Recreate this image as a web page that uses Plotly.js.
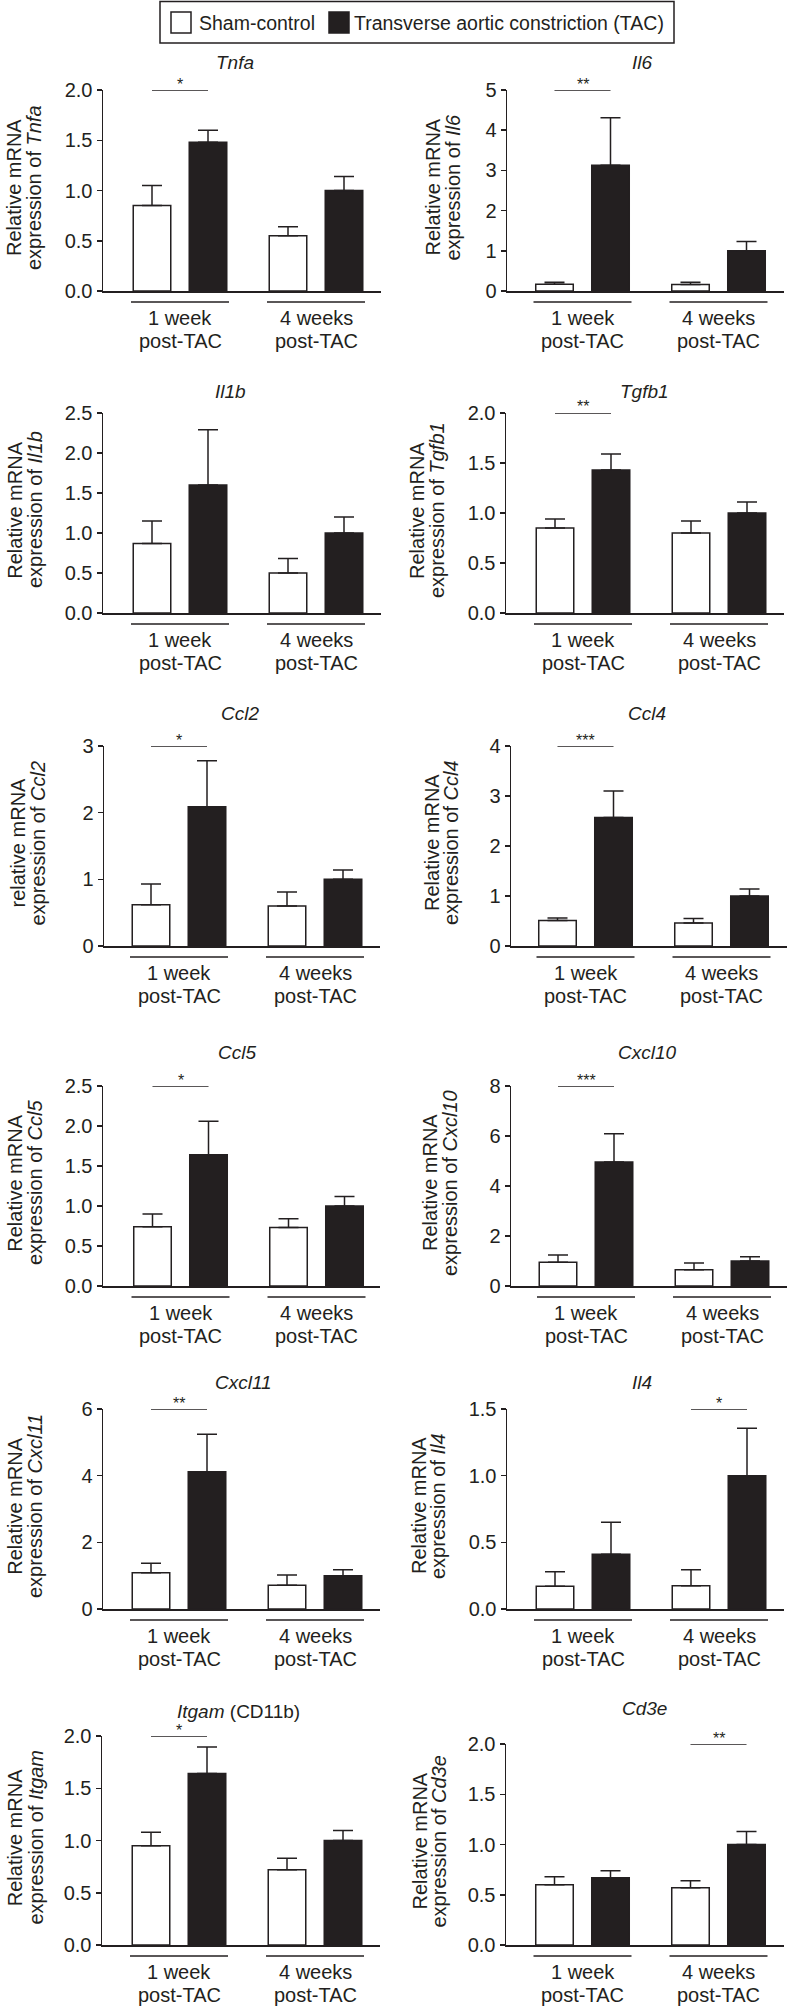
<!DOCTYPE html>
<html><head><meta charset="utf-8">
<script src="https://cdn.plot.ly/plotly-3.0.1.min.js"></script>
<style>html,body{margin:0;padding:0;background:#fff}#chart{width:788px;height:2006px}</style>
</head><body><div id="chart"></div>
<script>
// ---------------- DATA ----------------
const genes = ['Tnfa','Il6','Il1b','Tgfb1','Ccl2','Ccl4','Ccl5','Cxcl10','Cxcl11','Il4','Itgam','Cd3e'];
const panelTitles = ['<i>Tnfa</i>','<i>Il6</i>','<i>Il1b</i>','<i>Tgfb1</i>','<i>Ccl2</i>','<i>Ccl4</i>',
  '<i>Ccl5</i>','<i>Cxcl10</i>','<i>Cxcl11</i>','<i>Il4</i>','<i>Itgam</i> (CD11b)','<i>Cd3e</i>'];
const yTitleLine1 = ['Relative mRNA','Relative mRNA','Relative mRNA','Relative mRNA','relative mRNA','Relative mRNA',
  'Relative mRNA','Relative mRNA','Relative mRNA','Relative mRNA','Relative mRNA','Relative mRNA'];
const yTitleLine2 = ['expression of <i>Tnfa</i>','expression of <i>Il6</i>','expression of <i>Il1b</i>','expression of <i>Tgfb1</i>',
  'expression of <i>Ccl2</i>','expression of <i>Ccl4</i>','expression of <i>Ccl5</i>','expression of <i>Cxcl10</i>',
  'expression of <i>Cxcl11</i>','expression of <i>Il4</i>','expression of <i>Itgam</i>','expression of <i>Cd3e</i>'];
const groupLine1 = ['1 week','4 weeks'];
const groupLine2 = ['post-TAC','post-TAC'];
const seriesNames = ['Sham-control','Transverse aortic constriction (TAC)'];

// [1 week, 4 weeks] per gene
const shamMean = [[0.85,0.55],[0.17,0.16],[0.87,0.50],[0.85,0.80],[0.62,0.60],[0.51,0.46],
                  [0.74,0.73],[0.95,0.65],[1.09,0.71],[0.17,0.175],[0.95,0.72],[0.60,0.57]];
const shamSEM  = [[0.20,0.09],[0.05,0.06],[0.28,0.18],[0.09,0.12],[0.31,0.21],[0.05,0.09],
                  [0.16,0.11],[0.29,0.27],[0.28,0.31],[0.11,0.12],[0.13,0.11],[0.08,0.07]];
const tacMean  = [[1.48,1.00],[3.13,1.00],[1.60,1.00],[1.43,1.00],[2.09,1.00],[2.57,1.00],
                  [1.64,1.00],[4.96,1.00],[4.12,1.00],[0.41,1.00],[1.64,1.00],[0.67,1.00]];
const tacSEM   = [[0.12,0.14],[1.18,0.23],[0.69,0.20],[0.16,0.11],[0.69,0.14],[0.53,0.14],
                  [0.42,0.12],[1.13,0.17],[1.12,0.18],[0.24,0.355],[0.255,0.095],[0.07,0.13]];
const yTickLabels = [
  ['0.0','0.5','1.0','1.5','2.0'], ['0','1','2','3','4','5'], ['0.0','0.5','1.0','1.5','2.0','2.5'],
  ['0.0','0.5','1.0','1.5','2.0'], ['0','1','2','3'], ['0','1','2','3','4'],
  ['0.0','0.5','1.0','1.5','2.0','2.5'], ['0','2','4','6','8'], ['0','2','4','6'],
  ['0.0','0.5','1.0','1.5'], ['0.0','0.5','1.0','1.5','2.0'], ['0.0','0.5','1.0','1.5','2.0']];
const sigGroup = [0,0,null,0,0,0,0,0,0,1,0,1];
const sigMark  = ['*','**','','**','*','***','*','***','**','*','*','**'];

// ---------------- LAYOUT (pixel positions) ----------------
const W = 788, H = 2006, PXU = 136;
const POS = [
  {ax:103,xe:381,g1:180,  top:90,  zero:291, tx:235,ty:62,  b1:20.5,b2:40.5},
  {ax:507,xe:784,g1:582.5,top:90,  zero:291, tx:642,ty:62,  b1:439, b2:459},
  {ax:103,xe:381,g1:180,  top:413, zero:613, tx:230,ty:392, b1:21.7,b2:42},
  {ax:506,xe:784,g1:583,  top:413, zero:613, tx:644,ty:392, b1:424, b2:444},
  {ax:104,xe:380,g1:179,  top:746, zero:946, tx:240,ty:713, b1:24.5,b2:44.5},
  {ax:511,xe:787,g1:585.5,top:746, zero:946, tx:647,ty:713, b1:439, b2:458},
  {ax:103,xe:380,g1:180.5,top:1086,zero:1286,tx:237,ty:1052,b1:21.7,b2:42},
  {ax:511,xe:787,g1:586,  top:1086,zero:1286,tx:647,ty:1052,b1:437, b2:457},
  {ax:103,xe:380,g1:179,  top:1409,zero:1609,tx:243,ty:1382,b1:21.7,b2:42},
  {ax:507,xe:784,g1:583,  top:1409,zero:1609,tx:642,ty:1382,b1:426, b2:445},
  {ax:102,xe:380,g1:179,  top:1736,zero:1945,tx:238,ty:1711,b1:21.7,b2:42},
  {ax:506,xe:784,g1:582.5,top:1744,zero:1945,tx:644,ty:1708,b1:426, b2:445}
];
const INK = '#231f20';
const FONT = 'Liberation Sans, Arial, Helvetica, sans-serif';

const traces = [], annotations = [], shapes = [];
const layout = {
  width: W, height: H, margin: {l:0,r:0,t:0,b:0}, showlegend: false,
  paper_bgcolor: '#fff', plot_bgcolor: 'rgba(0,0,0,0)',
  barmode: 'group', bargap: 0.1765, bargroupgap: 0.33,
  font: {family: FONT, color: INK, size: 20}
};
const px = v => v / W, py = v => 1 - v / H;

genes.forEach((g, i) => {
  const p = POS[i];
  const n = i === 0 ? '' : String(i + 1);
  const xa = 'x' + n, ya = 'y' + n;
  const ticks = yTickLabels[i].map(Number);
  const yMax = ticks[ticks.length - 1];
  const r0 = (p.ax - p.g1) / PXU, r1 = 1 + (p.xe - (p.g1 + PXU)) / PXU;
  layout['xaxis' + n] = {
    domain: [px(p.ax), px(p.xe)], range: [r0, r1], anchor: ya,
    showline: true, linewidth: 1.5, linecolor: INK, showgrid: false, zeroline: false,
    showticklabels: false, ticks: '', fixedrange: true
  };
  layout['yaxis' + n] = {
    domain: [py(p.zero), py(p.top)], range: [0, yMax], anchor: xa,
    showline: true, linewidth: 1.5, linecolor: INK, showgrid: false, zeroline: false,
    tickvals: ticks, ticktext: yTickLabels[i], ticks: 'outside', ticklen: 5, tickwidth: 1.5,
    tickcolor: INK, tickfont: {size: 20, color: INK, family: FONT}, fixedrange: true
  };
  const cats = [0, 1];
  traces.push({
    type: 'bar', name: seriesNames[0], x: cats, y: shamMean[i], xaxis: xa, yaxis: ya,
    marker: {color: '#ffffff', line: {color: INK, width: 1.5}},
    error_y: {type: 'data', symmetric: false, array: shamSEM[i], arrayminus: shamSEM[i].map(() => 0),
              color: INK, thickness: 1.5, width: 10},
    hoverinfo: 'skip'
  });
  traces.push({
    type: 'bar', name: seriesNames[1], x: cats, y: tacMean[i], xaxis: xa, yaxis: ya,
    marker: {color: INK, line: {color: INK, width: 1.5}},
    error_y: {type: 'data', symmetric: false, array: tacSEM[i], arrayminus: tacSEM[i].map(() => 0),
              color: INK, thickness: 1.5, width: 10},
    hoverinfo: 'skip'
  });
  // significance bar
  if (sigGroup[i] !== null) {
    const gc = sigGroup[i];
    traces.push({
      type: 'scatter', mode: 'lines', x: [gc - 0.206, gc + 0.206], y: [yMax, yMax],
      xaxis: xa, yaxis: ya, line: {color: INK, width: 1.5}, cliponaxis: false, hoverinfo: 'skip'
    });
    annotations.push({
      xref: xa, yref: ya, x: gc, y: yMax, text: sigMark[i], showarrow: false,
      xanchor: 'center', yanchor: 'middle', yshift: 6, font: {size: 16, color: INK}
    });
  }
  // panel title
  annotations.push({
    xref: 'paper', yref: 'paper', x: px(p.tx), y: py(p.ty), text: panelTitles[i], showarrow: false,
    xanchor: 'center', yanchor: 'middle', font: {size: 19, color: INK}
  });
  // y-axis title (two lines)
  const yc = py((p.top + p.zero) / 2 - 3);
  annotations.push({
    xref: 'paper', yref: 'paper', x: px(p.b1 - 7), y: yc, text: yTitleLine1[i], textangle: -90,
    showarrow: false, xanchor: 'center', yanchor: 'middle', font: {size: 20, color: INK}
  });
  annotations.push({
    xref: 'paper', yref: 'paper', x: px(p.b2 - 7), y: yc, text: yTitleLine2[i], textangle: -90,
    showarrow: false, xanchor: 'center', yanchor: 'middle', font: {size: 20, color: INK}
  });
  // category labels + underlines
  cats.forEach(c => {
    annotations.push({xref: xa, yref: ya, x: c, y: 0, text: groupLine1[c], showarrow: false,
      xanchor: 'center', yanchor: 'middle', yshift: -27, font: {size: 20, color: INK}});
    annotations.push({xref: xa, yref: ya, x: c, y: 0, text: groupLine2[c], showarrow: false,
      xanchor: 'center', yanchor: 'middle', yshift: -50, font: {size: 20, color: INK}});
    const cpx = p.g1 + c * PXU;
    shapes.push({type: 'line', xref: 'paper', yref: 'paper',
      x0: px(cpx - 49), x1: px(cpx + 49), y0: py(p.zero + 11), y1: py(p.zero + 11),
      line: {color: INK, width: 1.5}});
  });
});

// legend box (drawn manually)
shapes.push({type: 'rect', xref: 'paper', yref: 'paper', x0: px(160), x1: px(674), y0: py(1.5), y1: py(43),
  line: {color: INK, width: 1.5}, fillcolor: 'rgba(0,0,0,0)'});
shapes.push({type: 'rect', xref: 'paper', yref: 'paper', x0: px(171), x1: px(191), y0: py(12), y1: py(33),
  line: {color: INK, width: 1.5}, fillcolor: '#ffffff'});
shapes.push({type: 'rect', xref: 'paper', yref: 'paper', x0: px(329), x1: px(349), y0: py(12), y1: py(33),
  line: {color: INK, width: 1.5}, fillcolor: INK});
annotations.push({xref: 'paper', yref: 'paper', x: px(197), y: py(23), text: seriesNames[0], showarrow: false,
  xanchor: 'left', yanchor: 'middle', font: {size: 19.5, color: INK}});
annotations.push({xref: 'paper', yref: 'paper', x: px(352), y: py(23), text: seriesNames[1], showarrow: false,
  xanchor: 'left', yanchor: 'middle', font: {size: 19.5, color: INK}});

layout.annotations = annotations;
layout.shapes = shapes;
Plotly.newPlot('chart', traces, layout, {displayModeBar: false, staticPlot: true});
</script>
</body></html>
